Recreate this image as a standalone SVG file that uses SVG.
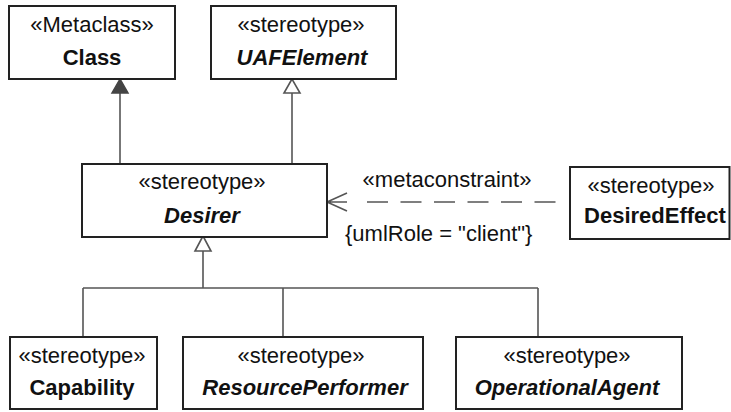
<svg xmlns="http://www.w3.org/2000/svg" width="731" height="412" viewBox="0 0 731 412">
<style>
.box{fill:#fff;stroke:#222;stroke-width:2}
.st{font-family:"Liberation Sans",Arial,sans-serif;font-size:22px;fill:#111;text-anchor:middle}
.nm{font-family:"Liberation Sans",Arial,sans-serif;font-size:22px;font-weight:bold;fill:#111;text-anchor:middle}
.it{font-style:italic}
.ln{fill:none;stroke:#555;stroke-width:1.6}
.lbl{font-family:"Liberation Sans",Arial,sans-serif;font-size:22px;fill:#111}
</style>
<rect width="731" height="412" fill="#fff"/>
<g id="connectors">
  <path class="ln" d="M120,93 V164"/>
  <polygon points="120,79 112,93 128,93" fill="#444" stroke="#444" stroke-width="1.5"/>
  <path class="ln" d="M292,93 V164"/>
  <polygon points="292,79 284,93 300,93" fill="#fff" stroke="#555" stroke-width="1.6"/>
  <path class="ln" d="M203,251 V288 M83,288 H538 M83,288 V337 M283,288 V337 M538,288 V337"/>
  <polygon points="203,236 195,251 211,251" fill="#fff" stroke="#555" stroke-width="1.6"/>
  <path class="ln" d="M347,193 L327,202 L347,211 M327,202 H347"/>
  <path class="ln" d="M367,202 H556" stroke-dasharray="21 12.5"/>
  <text class="lbl" x="447" y="187" text-anchor="middle">«metaconstraint»</text>
  <text class="lbl" x="345" y="241">{umlRole = "client"}</text>
</g>
<g id="Class">
  <rect class="box" x="9" y="6" width="166" height="73"/>
  <text class="st" x="92" y="32">«Metaclass»</text>
  <text class="nm" x="92" y="65">Class</text>
</g>
<g id="UAFElement">
  <rect class="box" x="211" y="6" width="185" height="73"/>
  <text class="st" x="301" y="32">«stereotype»</text>
  <text class="nm it" x="302" y="65">UAFElement</text>
</g>
<g id="Desirer">
  <rect class="box" x="82" y="164" width="245" height="73"/>
  <text class="st" x="202" y="189">«stereotype»</text>
  <text class="nm it" x="202" y="223">Desirer</text>
</g>
<g id="DesiredEffect">
  <rect class="box" x="570" y="167" width="159.5" height="72"/>
  <text class="st" x="651" y="193">«stereotype»</text>
  <text class="nm" x="655" y="223">DesiredEffect</text>
</g>
<g id="Capability">
  <rect class="box" x="10" y="337" width="147" height="72"/>
  <text class="st" x="82" y="363">«stereotype»</text>
  <text class="nm" x="82" y="395">Capability</text>
</g>
<g id="ResourcePerformer">
  <rect class="box" x="183" y="337" width="240" height="72"/>
  <text class="st" x="301" y="363">«stereotype»</text>
  <text class="nm it" x="305" y="395">ResourcePerformer</text>
</g>
<g id="OperationalAgent">
  <rect class="box" x="456" y="337" width="226" height="72"/>
  <text class="st" x="567" y="363">«stereotype»</text>
  <text class="nm it" x="567" y="395">OperationalAgent</text>
</g>
</svg>
